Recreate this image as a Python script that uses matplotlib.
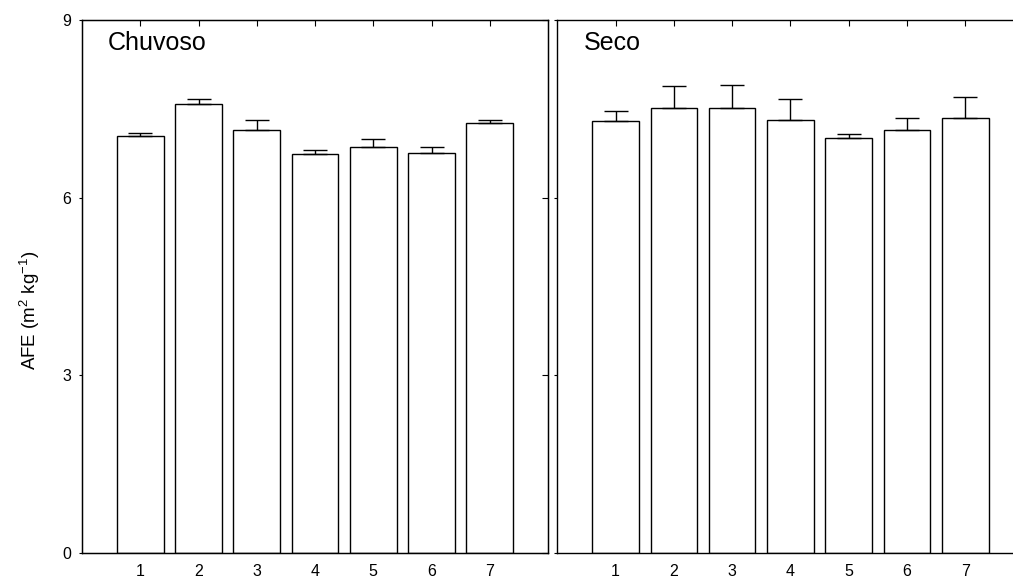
import matplotlib
matplotlib.use("Agg")
import matplotlib.pyplot as plt
import numpy as np

plt.rcParams['font.family'] = ['Liberation Sans', 'DejaVu Sans']
plt.rcParams['mathtext.default'] = 'regular'

categories = [1, 2, 3, 4, 5, 6, 7]
chuvoso_mean = [7.04, 7.58, 7.15, 6.73, 6.85, 6.75, 7.26]
chuvoso_err = [0.05, 0.08, 0.16, 0.07, 0.14, 0.10, 0.05]
seco_mean = [7.30, 7.52, 7.51, 7.31, 7.00, 7.15, 7.35]
seco_err = [0.17, 0.36, 0.40, 0.35, 0.08, 0.19, 0.35]
yticks = [0, 3, 6, 9]

W, H = 1013, 578
fig = plt.figure(figsize=(W / 100, H / 100), dpi=100)

ax1 = fig.add_axes([82 / W, 25 / H, 466 / W, 533 / H])
ax2 = fig.add_axes([557.3 / W, 25 / H, (W - 557.3) / W, 533 / H])

panels = [(ax1, chuvoso_mean, chuvoso_err, 'Chuvoso', (0, 8)),
          (ax2, seco_mean, seco_err, 'Seco', (0, 7.82))]

for ax, mean, err, title, xl in panels:
    ax.bar(categories, mean, width=0.8, color='white', edgecolor='black',
           linewidth=1.0, zorder=2)
    ax.errorbar(categories, mean, yerr=[np.zeros(len(mean)), err], fmt='none',
                ecolor='black', elinewidth=1.0, capsize=8.4, capthick=1.0, zorder=3)
    ax.set_xlim(*xl)
    ax.set_ylim(0, 9)
    ax.set_xticks(categories)
    ax.set_xticklabels([str(c) for c in categories], fontsize=11.5)
    ax.set_yticks(yticks)
    ax.tick_params(axis='x', direction='in', top=True, bottom=True, length=4,
                   width=0.8, pad=8)
    ax.tick_params(axis='y', direction='out', left=True, length=2.5, width=0.8,
                   labelsize=11.5, pad=5)
    for s in ax.spines.values():
        s.set_linewidth(1.0)
    ax.text(0.45, 8.5, title, fontsize=18, ha='left', va='baseline')

# right-side inward ticks on left panel
ax1r = ax1.twinx()
ax1r.set_ylim(0, 9)
ax1r.set_yticks(yticks)
ax1r.tick_params(axis='y', direction='in', length=4, width=0.8, labelright=False)

ax2.spines['right'].set_visible(False)
ax2.set_yticklabels([])

fig.text(30 / W, (H - 310) / H, 'AFE (m$^{2}$ kg$^{-1}$)', fontsize=13.5,
         rotation=90, ha='center', va='center')

fig.savefig('out.png', dpi=100)
